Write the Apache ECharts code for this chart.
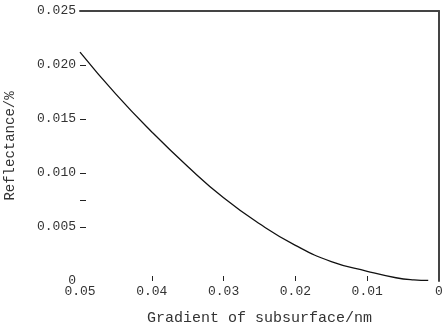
<!DOCTYPE html>
<html>
<head>
<meta charset="utf-8">
<script src="https://cdn.jsdelivr.net/npm/echarts@6/dist/echarts.min.js"></script>
<style>html,body{margin:0;padding:0;background:#fff}#c{width:446px;height:334px}</style>
</head>
<body>
<div id="c"></div>
<script>
// Data
var gradient = [0.05, 0.045, 0.04, 0.035, 0.03, 0.025, 0.02, 0.015, 0.01, 0.006, 0.0035, 0.0015];
var reflectance = [0.0212, 0.0173, 0.0138, 0.0106, 0.0077, 0.0053, 0.0033, 0.0018, 0.0009, 0.0003, 0.0001, 0.00005];
var xTickValues = [0.01, 0.02, 0.03, 0.04];
var yTickValues = [0.005, 0.0075, 0.01, 0.015, 0.02];
var xLabelValues = [0, 0.01, 0.02, 0.03, 0.04, 0.05];
var yLabelValues = [0, 0.005, 0.01, 0.015, 0.02, 0.025];
var xName = 'Gradient of subsurface/nm';
var yName = 'Reflectance/%';

var pts = gradient.map(function (g, i) { return [g, reflectance[i]]; });
function fmtX(v) { return v === 0 ? '0' : v.toFixed(2); }
function fmtY(v) { return v === 0 ? '0' : v.toFixed(3); }

var font = 'Liberation Mono';
var chart = echarts.init(document.getElementById('c'), null, {renderer: 'canvas'});
chart.setOption({
  animation: false,
  backgroundColor: '#fff',
  grid: {left: 80, right: 7, top: 11, bottom: 53, containLabel: false, outerBoundsMode: 'none'},
  xAxis: [{
    type: 'value', min: 0, max: 0.05, interval: 0.01, inverse: true,
    position: 'bottom',
    name: xName, nameLocation: 'middle', nameGap: 30,
    nameTextStyle: {fontFamily: font, fontSize: 15, color: '#333'},
    axisLine: {show: false, onZero: false},
    axisTick: {show: true, inside: true, length: 5, customValues: xTickValues, lineStyle: {color: '#222', width: 1}},
    axisLabel: {fontFamily: font, fontSize: 13, color: '#333', margin: 4, customValues: xLabelValues, formatter: fmtX},
    splitLine: {show: false}
  }, {
    type: 'value', min: 0, max: 0.05, inverse: true, position: 'top',
    axisLine: {show: true, onZero: false, lineStyle: {color: '#444', width: 2}},
    axisTick: {show: false}, axisLabel: {show: false}, splitLine: {show: false}
  }],
  yAxis: [{
    type: 'value', min: 0, max: 0.025, interval: 0.005, position: 'left',
    name: yName, nameLocation: 'middle', nameGap: 63,
    nameTextStyle: {fontFamily: font, fontSize: 14, color: '#333'},
    axisLine: {show: false, onZero: false},
    axisTick: {show: true, inside: true, length: 6, customValues: yTickValues, lineStyle: {color: '#222', width: 1}},
    axisLabel: {fontFamily: font, fontSize: 13, color: '#333', margin: 4, customValues: yLabelValues, formatter: fmtY},
    splitLine: {show: false}
  }, {
    type: 'value', min: 0, max: 0.025, position: 'right',
    axisLine: {show: true, onZero: false, lineStyle: {color: '#444', width: 2}},
    axisTick: {show: false}, axisLabel: {show: false}, splitLine: {show: false}
  }],
  series: [{
    type: 'line', xAxisIndex: 0, yAxisIndex: 0,
    data: pts, smooth: true, showSymbol: false, symbol: 'none',
    lineStyle: {color: '#111', width: 1.3}
  }]
});
</script>
</body>
</html>
